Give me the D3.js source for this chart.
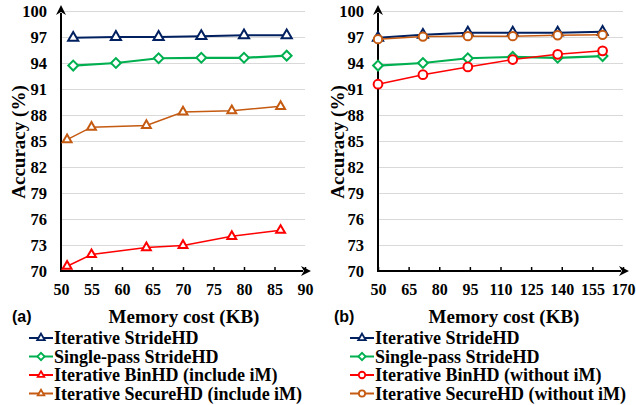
<!DOCTYPE html>
<html>
<head>
<meta charset="utf-8">
<title>StrideHD accuracy vs memory</title>
<script src="https://d3js.org/d3.v7.min.js"></script>
<style>
  body { margin: 0; background: #fff; }
  svg { display: block; }
  .serif { font-family: "Liberation Serif", "Times New Roman", serif; font-weight: bold; fill: #000; }
  .grid line { stroke: #d9d9d9; stroke-width: 1; }
</style>
</head>
<body>
<svg id="chart" width="636" height="405"></svg>
<script>
// data
const yTicks = [70, 73, 76, 79, 82, 85, 88, 91, 94, 97, 100];
const xTicksA = [50, 55, 60, 65, 70, 75, 80, 85, 90];
const xTicksB = [50, 65, 80, 95, 110, 125, 140, 155, 170];

// panel (a)
const memStrideA = [52, 59, 66, 73, 80, 87];
const memBaseA = [51, 55, 64, 70, 78, 86];
const iterStrideA = [96.9, 97.0, 97.0, 97.1, 97.2, 97.2];
const singleStrideA = [93.7, 94.0, 94.55, 94.6, 94.6, 94.85];
const binhdA = [70.55, 71.9, 72.7, 72.95, 74.0, 74.7];
const securehdA = [85.15, 86.6, 86.8, 88.35, 88.5, 89.0];

// panel (b)
const memB = [50, 72, 94, 116, 138, 160];
const iterStrideB = [96.9, 97.25, 97.5, 97.5, 97.5, 97.6];
const singleStrideB = [93.7, 94.0, 94.55, 94.7, 94.6, 94.8];
const binhdB = [91.55, 92.65, 93.55, 94.4, 95.0, 95.4];
const securehdB = [96.75, 97.05, 97.1, 97.1, 97.2, 97.25];

const legendA = ["Iterative StrideHD", "Single-pass StrideHD", "Iterative BinHD (include iM)", "Iterative SecureHD (include iM)"];
const legendB = ["Iterative StrideHD", "Single-pass StrideHD", "Iterative BinHD (without iM)", "Iterative SecureHD (without iM)"];

const navy = "#002060", green = "#00b050", red = "#ff0000", orange = "#c55a11";

const svg = d3.select("#chart");

// arrow head for axes
svg.append("defs").append("marker")
  .attr("id", "arrow")
  .attr("viewBox", "0 0 10 10")
  .attr("refX", 2).attr("refY", 5)
  .attr("markerWidth", 5).attr("markerHeight", 5)
  .attr("orient", "auto")
  .append("path")
  .attr("d", "M0,0 L10,5 L0,10 L3,5 Z")
  .attr("fill", "#000");

function symbolFor(kind, size) {
  if (kind === "tri") return d3.symbol(d3.symbolTriangle, size)();
  if (kind === "circ") return d3.symbol(d3.symbolCircle, size)();
  return d3.symbol(d3.symbolSquare, size)();
}

function panel(opt) {
  const x = d3.scaleLinear().domain(opt.xDomain).range(opt.xRange);
  const y = d3.scaleLinear().domain([70, 100]).range([271, 11]);
  const g = svg.append("g");

  // gridlines
  g.append("g").attr("class", "grid")
    .attr("transform", `translate(${opt.xRange[0]},0)`)
    .call(d3.axisLeft(y).tickValues(yTicks).tickSize(-(opt.xRange[1] - opt.xRange[0])).tickFormat(""))
    .call(a => a.select(".domain").remove());

  // y tick labels
  g.append("g")
    .attr("transform", `translate(${opt.xRange[0]},0)`)
    .call(d3.axisLeft(y).tickValues(yTicks).tickSize(0).tickPadding(14))
    .call(a => a.select(".domain").remove())
    .selectAll("text").attr("class", "serif").style("font-size", "16.5px");

  // x axis ticks and labels
  g.append("g")
    .attr("transform", `translate(0,${y(70)})`)
    .call(d3.axisBottom(x).tickValues(opt.xTicks).tickSize(-4).tickPadding(13))
    .call(a => a.select(".domain").remove())
    .call(a => a.selectAll("line").attr("stroke", "#000").attr("stroke-width", 1.5))
    .selectAll("text").attr("class", "serif").style("font-size", "16px");

  // axis lines with arrows
  g.append("line")
    .attr("x1", opt.xRange[0]).attr("x2", opt.xRange[0])
    .attr("y1", y(70) + 1).attr("y2", y(100) + 2)
    .attr("stroke", "#000").attr("stroke-width", 2)
    .attr("marker-end", "url(#arrow)");
  g.append("line")
    .attr("x1", opt.xRange[0] - 1).attr("x2", opt.xRange[1] - 2)
    .attr("y1", y(70)).attr("y2", y(70))
    .attr("stroke", "#000").attr("stroke-width", 2)
    .attr("marker-end", "url(#arrow)");

  // series
  opt.series.forEach(s => {
    const pts = s.xs.map((v, i) => [x(v), y(s.ys[i])]);
    g.append("path")
      .attr("d", d3.line()(pts))
      .attr("fill", "none")
      .attr("stroke", s.color)
      .attr("stroke-width", s.width);
    g.selectAll(null).data(pts).enter().append("path")
      .attr("d", symbolFor(s.shape, s.size))
      .attr("transform", d => `translate(${d[0]},${d[1]})` + (s.shape === "dia" ? " rotate(45)" : ""))
      .attr("fill", "#fff")
      .attr("stroke", s.color)
      .attr("stroke-width", 2);
  });

  // axis titles
  g.append("text").attr("class", "serif")
    .attr("transform", `translate(${opt.yTitleX},142) rotate(-90)`)
    .attr("text-anchor", "middle").attr("dy", "0.35em")
    .style("font-size", "19px")
    .text("Accuracy (%)");
  g.append("text").attr("class", "serif")
    .attr("x", opt.xTitleX).attr("y", 316)
    .attr("text-anchor", "middle").attr("dy", "0.35em")
    .style("font-size", "19px")
    .text("Memory cost (KB)");

  // panel tag
  g.append("text")
    .attr("x", opt.tagX).attr("y", 316).attr("dy", "0.35em")
    .style("font-family", "'Liberation Sans', Arial, sans-serif")
    .style("font-weight", "bold").style("font-size", "16px")
    .text(opt.tag);

  // legend
  const rowY = d3.scaleLinear().domain([0, 3]).range([338, 393.5]);
  opt.series.slice().sort((a, b) => a.order - b.order).forEach((s, i) => {
    const ly = rowY(i);
    const lx = opt.legendX;
    g.append("line")
      .attr("x1", lx).attr("x2", lx + 24)
      .attr("y1", ly).attr("y2", ly)
      .attr("stroke", s.color).attr("stroke-width", 2);
    g.append("path")
      .attr("d", symbolFor(s.shape, s.size * 0.55))
      .attr("transform", `translate(${lx + 12},${ly})` + (s.shape === "dia" ? " rotate(45)" : ""))
      .attr("fill", "#fff").attr("stroke", s.color).attr("stroke-width", 1.8);
    g.append("text").attr("class", "serif")
      .attr("x", lx + 25).attr("y", ly).attr("dy", "0.35em")
      .style("font-size", "18px")
      .text(opt.legend[i]);
  });
}

panel({
  xDomain: [50, 90], xRange: [61, 305], xTicks: xTicksA,
  yTitleX: 18, xTitleX: 184, tagX: 12, tag: "(a)", legendX: 29, legend: legendA,
  series: [
    { order: 3, xs: memBaseA, ys: securehdA, color: orange, width: 1.5, shape: "tri", size: 34 },
    { order: 2, xs: memBaseA, ys: binhdA, color: red, width: 1.5, shape: "tri", size: 34 },
    { order: 1, xs: memStrideA, ys: singleStrideA, color: green, width: 2.2, shape: "dia", size: 48 },
    { order: 0, xs: memStrideA, ys: iterStrideA, color: navy, width: 2, shape: "tri", size: 45 }
  ]
});

panel({
  xDomain: [50, 170], xRange: [378, 623], xTicks: xTicksB,
  yTitleX: 337, xTitleX: 504, tagX: 334, tag: "(b)", legendX: 350, legend: legendB,
  series: [
    { order: 1, xs: memB, ys: singleStrideB, color: green, width: 2.2, shape: "dia", size: 48 },
    { order: 2, xs: memB, ys: binhdB, color: red, width: 1.5, shape: "circ", size: 60 },
    { order: 0, xs: memB, ys: iterStrideB, color: navy, width: 2, shape: "tri", size: 45 },
    { order: 3, xs: memB, ys: securehdB, color: orange, width: 1.5, shape: "circ", size: 55 }
  ]
});
</script>
</body>
</html>
